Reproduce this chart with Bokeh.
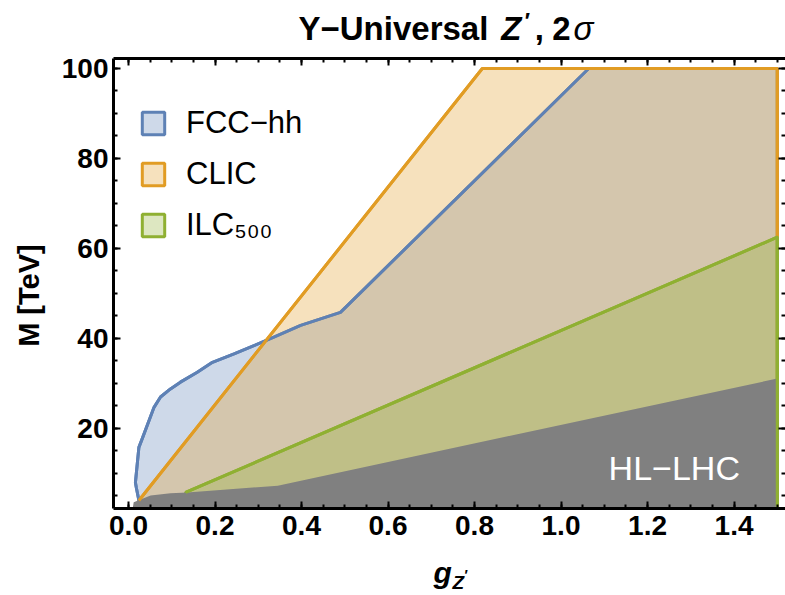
from bokeh.plotting import figure
from bokeh.layouts import column
from bokeh.models import (SingleIntervalTicker, LinearAxis, PrintfTickFormatter,
                          CustomJSTickFormatter, Label, Legend, LegendItem, Range1d)
from bokeh.embed import file_html
from bokeh.resources import INLINE

# ---------------- data ----------------
Y_FLOOR = 0.0
G_MAX = 1.5

fcc_x = [0.024, 0.018, 0.016, 0.024, 0.032, 0.059, 0.074, 0.097, 0.120, 0.159,
         0.194, 0.244, 0.290, 0.336, 0.398, 0.490, 1.064, 1.5]
fcc_y = [4.0, 6.9, 8.0, 15.8, 17.8, 24.7, 27.0, 28.8, 30.3, 32.5,
         34.7, 36.6, 38.4, 40.3, 42.9, 45.8, 100.0, 100.0]

clic_x = [0.024, 0.818, 1.5, 1.5]
clic_y = [4.0, 100.0, 100.0, 62.5]

ilc_x = [0.132, 1.5, 1.5]
ilc_y = [5.8, 62.5, Y_FLOOR]

hl_x = [0.006, 0.012, 0.051, 0.097, 0.136, 0.345, 1.5]
hl_y = [Y_FLOOR, 3.6, 5.1, 5.6, 5.8, 7.3, 31.1]

series_names = ["FCC\u2212hh", "CLIC", "ILC\u2085\u2080\u2080"]
series_colors = ["#5E81B5", "#E19C24", "#8FB032"]
x_ticks_step = 0.2
y_ticks_step = 20

FONT = "Liberation Sans"
W, H = 785, 595
TOP_H, BOT_H = 50, 40
MAIN_H = H - TOP_H - BOT_H
LEFT_B = 113

# ---------------- main plot ----------------
p = figure(width=W, height=MAIN_H, x_range=(-0.0347, 1.519), y_range=(2.22, 102.22),
           output_backend="svg", toolbar_location=None, title=None,
           min_border_left=LEFT_B, min_border_right=0, min_border_top=8,
           min_border_bottom=MAIN_H - 458, x_axis_location=None, y_axis_location=None)
p.outline_line_color = None
p.grid.visible = False
p.background_fill_color = "white"
p.border_fill_color = "white"

fill_alpha = 0.3
r_fcc = p.patch(fcc_x + [G_MAX, fcc_x[0]], fcc_y + [Y_FLOOR, Y_FLOOR],
                fill_color=series_colors[0], fill_alpha=fill_alpha,
                line_color=series_colors[0], line_width=3)
r_clic = p.patch(clic_x[:3] + [G_MAX, clic_x[0]], clic_y[:3] + [Y_FLOOR, Y_FLOOR],
                 fill_color=series_colors[1], fill_alpha=fill_alpha,
                 line_color=series_colors[1], line_width=3)
r_ilc = p.patch(ilc_x + [ilc_x[0]], ilc_y + [Y_FLOOR],
                fill_color=series_colors[2], fill_alpha=fill_alpha,
                line_color=series_colors[2], line_width=3)
p.patch(hl_x + [G_MAX], hl_y + [Y_FLOOR], fill_color="#808080", line_color=None)

p.line(fcc_x, fcc_y, line_color=series_colors[0], line_width=3, line_join="round")
p.line(clic_x, clic_y, line_color=series_colors[1], line_width=3, line_join="round")
p.line(ilc_x, ilc_y, line_color=series_colors[2], line_width=3, line_join="round")

items = [LegendItem(label=n, renderers=[r])
         for n, r in zip(series_names, [r_fcc, r_clic, r_ilc])]
legend = Legend(items=items, location=(26, 265), orientation="vertical",
                label_text_font=FONT, label_text_font_size="31px",
                label_text_color="black",
                glyph_width=28, glyph_height=28, label_height=28,
                label_standoff=19, spacing=15, padding=0, margin=0,
                border_line_color=None, background_fill_alpha=0)
p.add_layout(legend)

def style_axis(ax, labels=True, line=True):
    ax.axis_line_color = "black" if line else None
    ax.axis_line_width = 3
    ax.major_tick_in = 7
    ax.major_tick_out = 0
    ax.minor_tick_in = 4
    ax.minor_tick_out = 0
    ax.major_tick_line_width = 2
    ax.minor_tick_line_width = 2
    ax.major_tick_line_color = "black"
    ax.minor_tick_line_color = "black"
    ax.major_label_text_font = FONT
    ax.major_label_text_font_style = "bold"
    ax.major_label_text_font_size = "28px"
    ax.major_label_text_color = "black"
    if not labels:
        ax.formatter = CustomJSTickFormatter(code="return ''")
        ax.major_label_standoff = 0

xt = SingleIntervalTicker(interval=x_ticks_step, num_minor_ticks=4)
yt = SingleIntervalTicker(interval=y_ticks_step, num_minor_ticks=4)

xb = LinearAxis(ticker=xt, formatter=PrintfTickFormatter(format="%.1f"))
style_axis(xb)
xb.major_label_standoff = 7
p.add_layout(xb, "below")

yl = LinearAxis(ticker=yt, axis_label="M [TeV]\u00a0\u00a0\u00a0")
style_axis(yl)
yl.major_label_standoff = 5
yl.axis_label_standoff = 14
yl.axis_label_text_font = FONT
yl.axis_label_text_font_style = "bold"
yl.axis_label_text_font_size = "29px"
yl.axis_label_text_color = "black"
p.add_layout(yl, "left")

xtop = LinearAxis(ticker=xt)
style_axis(xtop, labels=False)
p.add_layout(xtop, "above")

yr = LinearAxis(ticker=yt)
style_axis(yr, labels=False, line=False)
p.add_layout(yr, "right")

p.add_layout(Label(x=1.11, y=11.3, text="HL\u2212LHC", text_font=FONT,
                   text_font_size="34px", text_color="white",
                   text_align="left", text_baseline="middle"))

# ---------------- text strips (x in data units, y = text middle in px from top) ----------------
def strip(height):
    f = figure(width=W, height=height, x_range=p.x_range, y_range=Range1d(height, 0),
               output_backend="svg", toolbar_location=None, title=None,
               min_border_left=LEFT_B, min_border_right=0, min_border_top=0,
               min_border_bottom=0, x_axis_location=None, y_axis_location=None)
    f.outline_line_color = None
    f.grid.visible = False
    f.background_fill_color = "white"
    f.border_fill_color = "white"
    return f

def slabel(f, text, x, y, size, style="bold"):
    f.add_layout(Label(x=x, y=y, text=text, text_font=FONT, text_font_size=size,
                       text_font_style=style, text_color="black",
                       text_align="left", text_baseline="middle"))

tfig = strip(TOP_H)
slabel(tfig, "Y\u2212Universal", 0.393, 28, "33px", "bold")
slabel(tfig, "Z", 0.862, 28, "33px", "bold italic")
slabel(tfig, "\u2032", 0.916, 20, "22px", "bold")
slabel(tfig, ",", 0.939, 28, "33px", "bold")
slabel(tfig, "2", 0.980, 28, "33px", "bold")
slabel(tfig, "\u03c3", 1.029, 28, "33px", "italic")

bfig = strip(BOT_H)
slabel(bfig, "g", 0.705, 17, "30px", "bold italic")
slabel(bfig, "Z", 0.749, 27, "19px", "bold italic")
slabel(bfig, "\u2032", 0.777, 19, "14px", "bold")

layout = column(tfig, p, bfig, spacing=0)
open("out.html", "w").write(file_html(layout, INLINE))
